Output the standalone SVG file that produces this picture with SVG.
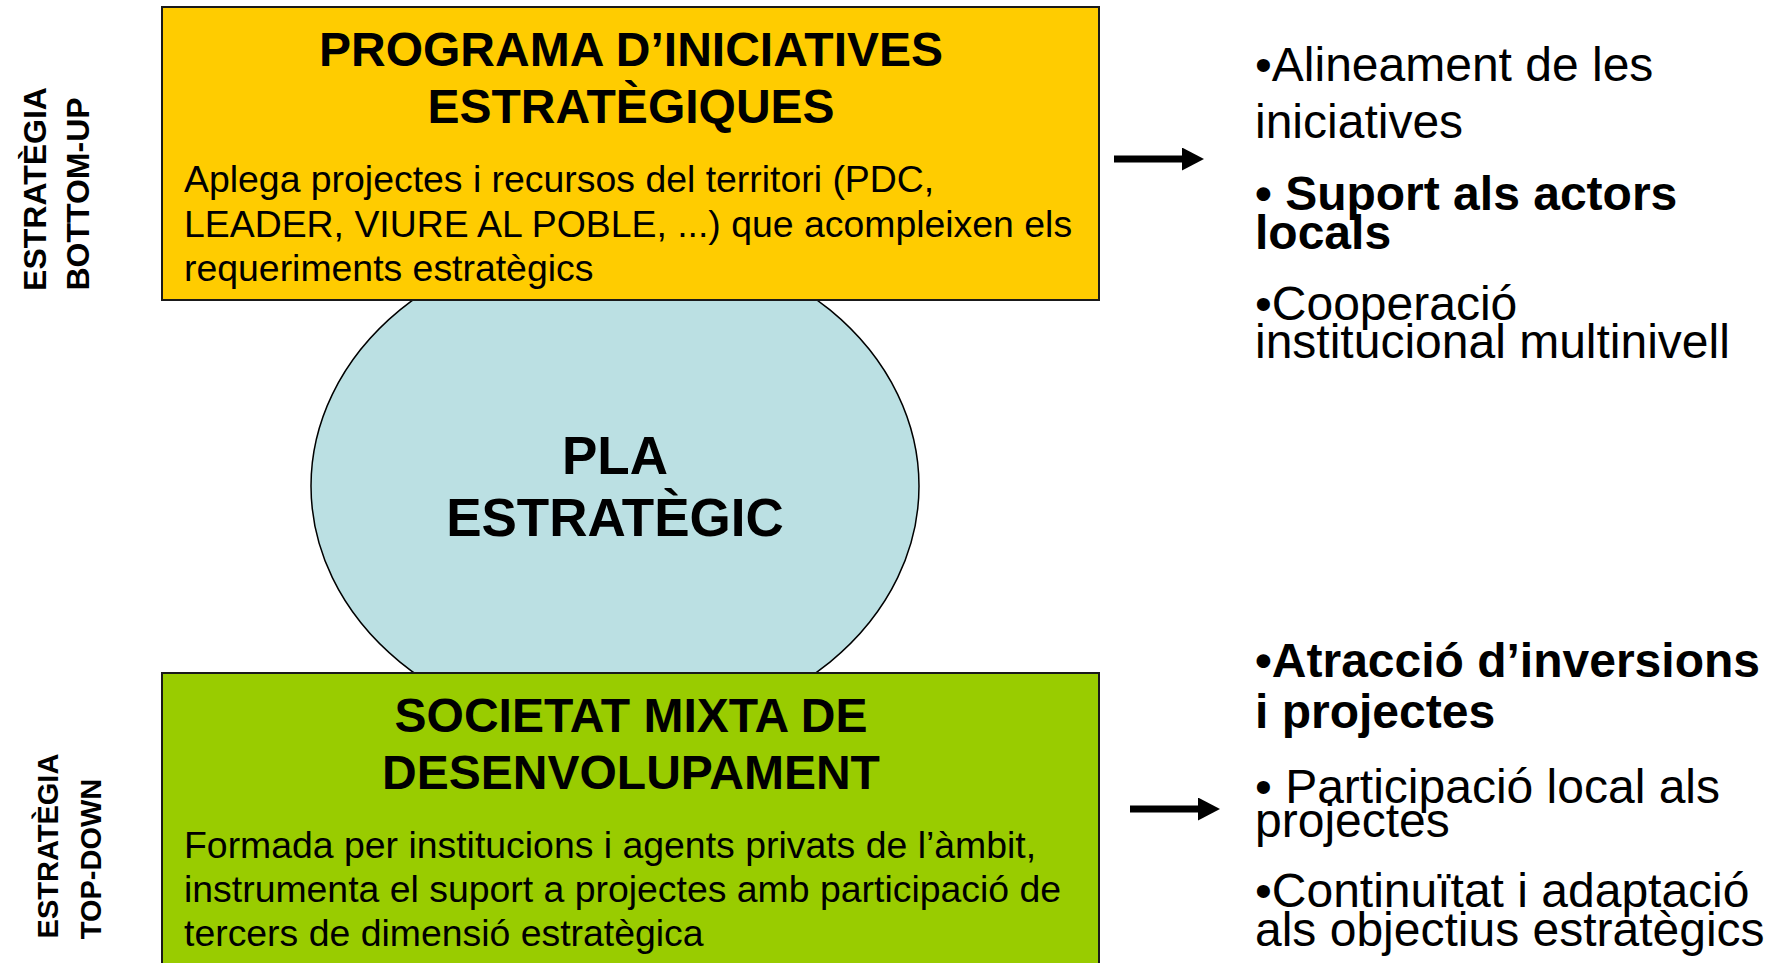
<svg xmlns="http://www.w3.org/2000/svg" width="1778" height="963" viewBox="0 0 1778 963">
  <style>
    .box { stroke: #1a1a1a; stroke-width: 2; }
    .title { font-family: "Liberation Sans", Arial, sans-serif; font-weight: bold; font-size: 48px; fill: #000; text-anchor: middle; }
    .big { font-size: 53px; }
    .body { font-family: "Liberation Sans", Arial, sans-serif; font-size: 37.4px; fill: #000; }
    .side { font-family: "Liberation Sans", Arial, sans-serif; font-weight: bold; fill: #000; text-anchor: middle; }
    .list { font-family: "Liberation Sans", Arial, sans-serif; font-size: 48px; fill: #000; }
    .b { font-weight: bold; }
    .arrow { stroke: #000; stroke-width: 7; fill: none; }
  </style>
  <defs>
    <marker id="head" markerUnits="userSpaceOnUse" markerWidth="24" markerHeight="24" refX="8" refY="11.5" orient="auto">
      <path d="M0,0 L22,11.5 L0,23 z" fill="#000"/>
    </marker>
  </defs>
  <rect width="1778" height="963" fill="#fff"/>

  <g id="pla-estrategic">
    <ellipse cx="615" cy="486" rx="304" ry="249" fill="#BBE0E3" stroke="#000" stroke-width="1.5"/>
    <text class="title big" x="615" y="474">PLA</text>
    <text class="title big" x="615" y="536">ESTRATÈGIC</text>
  </g>

  <g id="programa-iniciatives">
    <rect class="box" x="162" y="7" width="937" height="293" fill="#FFCC00"/>
    <text class="title" x="631" y="66">PROGRAMA D’INICIATIVES</text>
    <text class="title" x="631" y="123">ESTRATÈGIQUES</text>
    <text class="body" x="184" y="192">Aplega projectes i recursos del territori (PDC,</text>
    <text class="body" x="184" y="237">LEADER, VIURE AL POBLE, ...) que acompleixen els</text>
    <text class="body" x="184" y="281">requeriments estratègics</text>
  </g>

  <g id="societat-mixta">
    <rect class="box" x="162" y="673" width="937" height="300" fill="#99CC00"/>
    <text class="title" x="631" y="732">SOCIETAT MIXTA DE</text>
    <text class="title" x="631" y="789">DESENVOLUPAMENT</text>
    <text class="body" x="184" y="858">Formada per institucions i agents privats de l’àmbit,</text>
    <text class="body" x="184" y="902">instrumenta el suport a projectes amb participació de</text>
    <text class="body" x="184" y="946">tercers de dimensió estratègica</text>
  </g>

  <g id="label-bottom-up">
    <text class="side" font-size="32" transform="translate(46,189) rotate(-90)">ESTRATÈGIA</text>
    <text class="side" font-size="32" transform="translate(89,194) rotate(-90)">BOTTOM-UP</text>
  </g>

  <g id="label-top-down">
    <text class="side" font-size="29" transform="translate(58,846) rotate(-90)">ESTRATÈGIA</text>
    <text class="side" font-size="29" transform="translate(101,859) rotate(-90)">TOP-DOWN</text>
  </g>

  <g id="resultats-bottom-up">
    <text class="list" x="1255" y="81">•Alineament de les</text>
    <text class="list" x="1255" y="138">iniciatives</text>
    <text class="list b" x="1255" y="210">• Suport als actors</text>
    <text class="list b" x="1255" y="249">locals</text>
    <text class="list" x="1255" y="320">•Cooperació</text>
    <text class="list" x="1255" y="358">institucional multinivell</text>
  </g>

  <g id="resultats-top-down">
    <text class="list b" x="1255" y="677">•Atracció d’inversions</text>
    <text class="list b" x="1255" y="728">i projectes</text>
    <text class="list" x="1255" y="803">• Participació local als</text>
    <text class="list" x="1255" y="837">projectes</text>
    <text class="list" x="1255" y="907">•Continuïtat i adaptació</text>
    <text class="list" x="1255" y="946">als objectius estratègics</text>
  </g>

  <g id="connectors">
    <line class="arrow" x1="1114" y1="159" x2="1190" y2="159" marker-end="url(#head)"/>
    <line class="arrow" x1="1130" y1="809" x2="1206" y2="809" marker-end="url(#head)"/>
  </g>
</svg>
